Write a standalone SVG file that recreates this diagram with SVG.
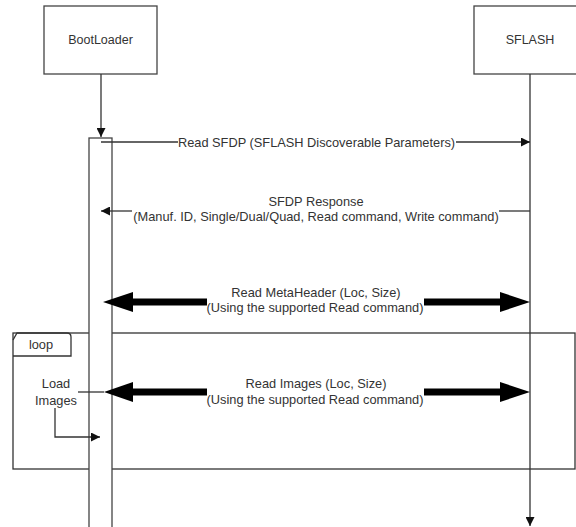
<svg xmlns="http://www.w3.org/2000/svg" width="576" height="527" viewBox="0 0 576 527">
<style>
  .box{fill:#fff;stroke:#444;stroke-width:1.3}
  .ln{fill:none;stroke:#333;stroke-width:1.3}
  .tk{fill:none;stroke:#000;stroke-width:7}
  text{font-family:"Liberation Sans",Arial,sans-serif;fill:#333;font-size:12.8px}
  .t{text-anchor:middle}
  .h{font-size:12.5px}
</style>
<defs>
  <marker id="ah" viewBox="0 0 10 10" refX="10" refY="5" markerWidth="9" markerHeight="9" markerUnits="userSpaceOnUse" orient="auto">
    <path d="M0,0 L10,5 L0,10 Z" fill="#111"/>
  </marker>
</defs>
<rect width="576" height="527" fill="#fff"/>
<g id="loop">
  <rect x="13" y="333" width="562" height="136" class="ln" stroke-width="1.5"/>
  <path d="M13,340 L17,333 L67,333 Q71,333 71,337 L71,356 L13,356" class="ln"/>
  <text x="41" y="349" class="t">loop</text>
  <text x="56" y="388" class="t">Load</text>
  <text x="56" y="405" class="t">Images</text>
</g>
<g id="bootloader">
  <rect x="44" y="6" width="113" height="68" class="box"/>
  <text x="100.5" y="44" class="t h">BootLoader</text>
</g>
<g id="sflash">
  <rect x="474" y="6" width="110" height="68" class="box"/>
  <text x="530" y="44" class="t h">SFLASH</text>
</g>
<g id="activation">
  <rect x="89" y="138" width="23" height="400" class="box"/>
</g>
<g id="connectors">
  <line x1="101" y1="74" x2="101" y2="137" class="ln" marker-end="url(#ah)"/>
  <line x1="530" y1="74" x2="530" y2="526" class="ln" marker-end="url(#ah)"/>
  <line x1="101" y1="142" x2="178" y2="142" class="ln"/>
  <line x1="456" y1="142" x2="530" y2="142" class="ln" marker-end="url(#ah)"/>
  <text x="316.5" y="146.5" class="t">Read SFDP (SFLASH Discoverable Parameters)</text>
  <line x1="530" y1="211" x2="499" y2="211" class="ln"/>
  <line x1="132" y1="211" x2="101" y2="211" class="ln" marker-end="url(#ah)"/>
  <text x="316" y="206" class="t">SFDP Response</text>
  <text x="316" y="221" class="t">(Manuf. ID, Single/Dual/Quad, Read command, Write command)</text>
  <line x1="207" y1="302" x2="132" y2="302" class="tk"/>
  <path d="M103,302 L133,292 L133,312 Z" fill="#000"/>
  <line x1="424" y1="302" x2="501" y2="302" class="tk"/>
  <path d="M530,302 L500,292 L500,312 Z" fill="#000"/>
  <text x="316" y="297" class="t">Read MetaHeader (Loc, Size)</text>
  <text x="315" y="312" class="t">(Using the supported Read command)</text>
  <line x1="78" y1="392" x2="104" y2="392" class="ln"/>
  <line x1="207" y1="392" x2="132" y2="392" class="tk"/>
  <path d="M104,392 L133,382 L133,402 Z" fill="#000"/>
  <line x1="424" y1="392" x2="501" y2="392" class="tk"/>
  <path d="M530,392 L500,382 L500,402 Z" fill="#000"/>
  <text x="316" y="388" class="t">Read Images (Loc, Size)</text>
  <text x="315" y="404" class="t">(Using the supported Read command)</text>
  <path d="M55,408 L55,437 L100,437" class="ln" marker-end="url(#ah)"/>
</g>
</svg>
